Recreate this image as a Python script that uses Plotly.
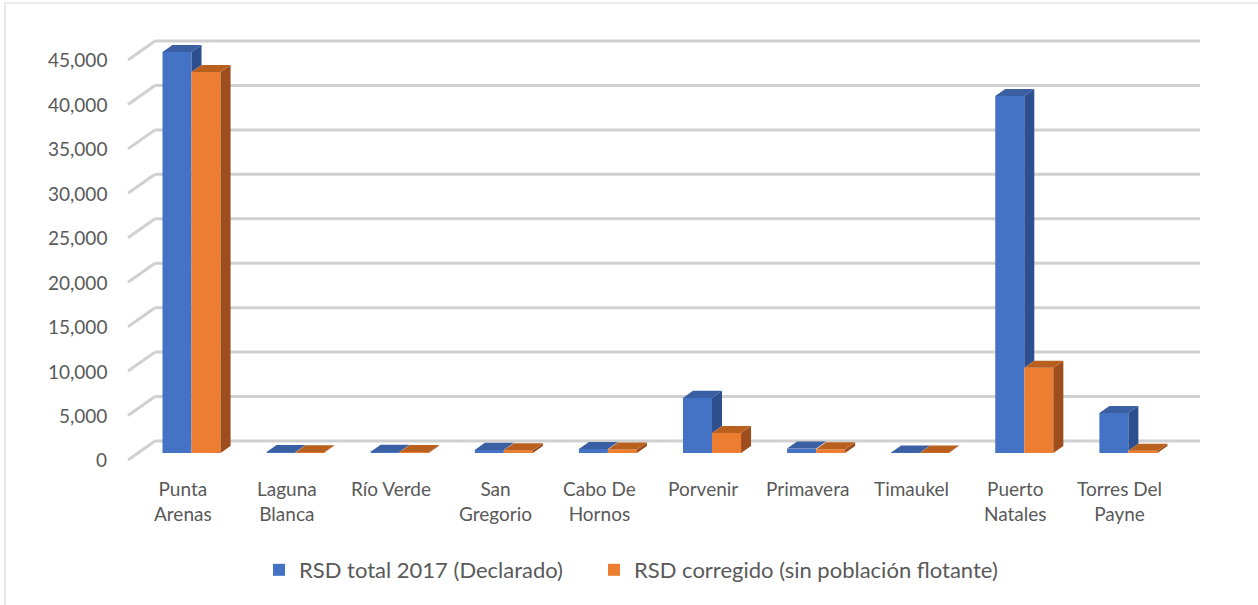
import plotly.graph_objects as go

# ---------------- data ----------------
categories = ["Punta Arenas", "Laguna Blanca", "Río Verde", "San Gregorio",
              "Cabo De Hornos", "Porvenir", "Primavera", "Timaukel",
              "Puerto Natales", "Torres Del Payne"]
tick_labels = ["Punta<br>Arenas", "Laguna<br>Blanca", "Río Verde", "San<br>Gregorio",
               "Cabo De<br>Hornos", "Porvenir", "Primavera", "Timaukel",
               "Puerto<br>Natales", "Torres Del<br>Payne"]
rsd_total = [45100, 100, 150, 350, 450, 6200, 500, 50, 40150, 4500]
rsd_corr = [42850, 80, 120, 320, 400, 2250, 420, 40, 9600, 260]
y_ticks = [0, 5000, 10000, 15000, 20000, 25000, 30000, 35000, 40000, 45000]
series_names = ["RSD total 2017 (Declarado)", "RSD corregido (sin población flotante)"]

# ---------------- style / geometry ----------------
BLUE, BLUE_SIDE, BLUE_TOP = "#4472C4", "#2D4F8E", "#3A5FA3"
ORANGE, ORANGE_SIDE, ORANGE_TOP = "#ED7D31", "#9E4E1C", "#B9601F"
TXT = "#595959"
FONT = "Lato"

BAR_W = 0.279          # width of one bar (x units)
PAIR_SHIFT = 0.082     # pair centre relative to category position
DX, DY = 0.096, 790    # depth of each bar (x units, y units)
FRONT_DY = -787        # front plane relative to bar plane
BACK_DY = 1350         # back wall relative to bar plane
X_FRONT_LEFT, X_BACK_LEFT, X_BACK_RIGHT = -0.528, -0.269, 9.77

fig = go.Figure()

idx = list(range(len(categories)))
xb = [i + PAIR_SHIFT - BAR_W / 2 for i in idx]
xo = [i + PAIR_SHIFT + BAR_W / 2 for i in idx]

fig.add_trace(go.Bar(x=xb, y=rsd_total, width=BAR_W, name=series_names[0],
                     marker=dict(color=BLUE, line=dict(width=0)), hoverinfo="y",
                     legend="legend"))
fig.add_trace(go.Bar(x=xo, y=rsd_corr, width=BAR_W, name=series_names[1],
                     marker=dict(color=ORANGE, line=dict(width=0)), hoverinfo="y",
                     legend="legend2"))


def poly_trace(xs, ys, color):
    return go.Scatter(x=xs, y=ys, mode="lines", fill="toself", fillcolor=color,
                      line=dict(width=0, color=color), showlegend=False,
                      hoverinfo="skip")


# blue tops and visible sides
bx_side, by_side, bx_top, by_top = [], [], [], []
for i in idx:
    b, o = rsd_total[i], rsd_corr[i]
    l, r = xb[i] - BAR_W / 2, xb[i] + BAR_W / 2
    bx_top += [l, r, r + DX, l + DX, l, None]
    by_top += [b, b, b + DY, b + DY, b, None]
    if b > o:
        bx_side += [r, r + DX, r + DX, r, r, None]
        by_side += [o, o + DY, b + DY, b, o, None]
fig.add_trace(poly_trace(bx_side, by_side, BLUE_SIDE))
fig.add_trace(poly_trace(bx_top, by_top, BLUE_TOP))

ox_side, oy_side, ox_top, oy_top = [], [], [], []
for i in idx:
    o = rsd_corr[i]
    l, r = xo[i] - BAR_W / 2, xo[i] + BAR_W / 2
    ox_top += [l, r, r + DX, l + DX, l, None]
    oy_top += [o, o, o + DY, o + DY, o, None]
    ox_side += [r, r + DX, r + DX, r, r, None]
    oy_side += [0, DY, o + DY, o, 0, None]
fig.add_trace(poly_trace(ox_side, oy_side, ORANGE_SIDE))
fig.add_trace(poly_trace(ox_top, oy_top, ORANGE_TOP))

# ---------------- walls / gridlines ----------------
shapes = []
for v in y_ticks:
    shapes.append(dict(type="line", xref="x", yref="y", layer="below",
                       x0=X_FRONT_LEFT, y0=v + FRONT_DY, x1=X_BACK_LEFT, y1=v + BACK_DY,
                       line=dict(color="#d0d0d0", width=3)))
    shapes.append(dict(type="line", xref="x", yref="y", layer="below",
                       x0=X_BACK_LEFT, y0=v + BACK_DY, x1=X_BACK_RIGHT, y1=v + BACK_DY,
                       line=dict(color="#d0d0d0", width=3)))
# chart border
shapes.append(dict(type="rect", xref="paper", yref="paper", layer="below",
                   x0=5 / 1258, y0=-0.01, x1=1.01, y1=1 - 3 / 605,
                   line=dict(color="#d9d9d9", width=1.2), fillcolor="rgba(0,0,0,0)"))

annotations = []
for v in y_ticks:
    annotations.append(dict(x=-0.711, y=v + FRONT_DY, xref="x", yref="y",
                            text=f"{v:,}", showarrow=False, xanchor="right",
                            yanchor="middle", font=dict(family=FONT, size=19, color=TXT)))
for i, lab in zip(idx, tick_labels):
    annotations.append(dict(x=i, y=-2450, xref="x", yref="y", text=lab,
                            showarrow=False, xanchor="center", yanchor="top",
                            font=dict(family=FONT, size=19, color=TXT)))

legend_common = dict(orientation="h", xanchor="left", y=1 - 570 / 605,
                     yanchor="middle", font=dict(family=FONT, size=22, color=TXT),
                     bgcolor="rgba(0,0,0,0)")

fig.update_layout(
    width=1258, height=605, autosize=False,
    margin=dict(l=0, r=0, t=0, b=0),
    paper_bgcolor="white", plot_bgcolor="white",
    barmode="overlay",
    xaxis=dict(range=[-1.758, 10.327], visible=False, fixedrange=True),
    yaxis=dict(range=[-17100, 50962], visible=False, fixedrange=True),
    shapes=shapes, annotations=annotations,
    showlegend=True,
    legend=dict(x=259 / 1258, **legend_common),
    legend2=dict(x=594 / 1258, **legend_common),
)

fig.write_html("out.html", config={"displayModeBar": False},
               post_script="document.body.style.margin='0';document.body.style.padding='0';")
